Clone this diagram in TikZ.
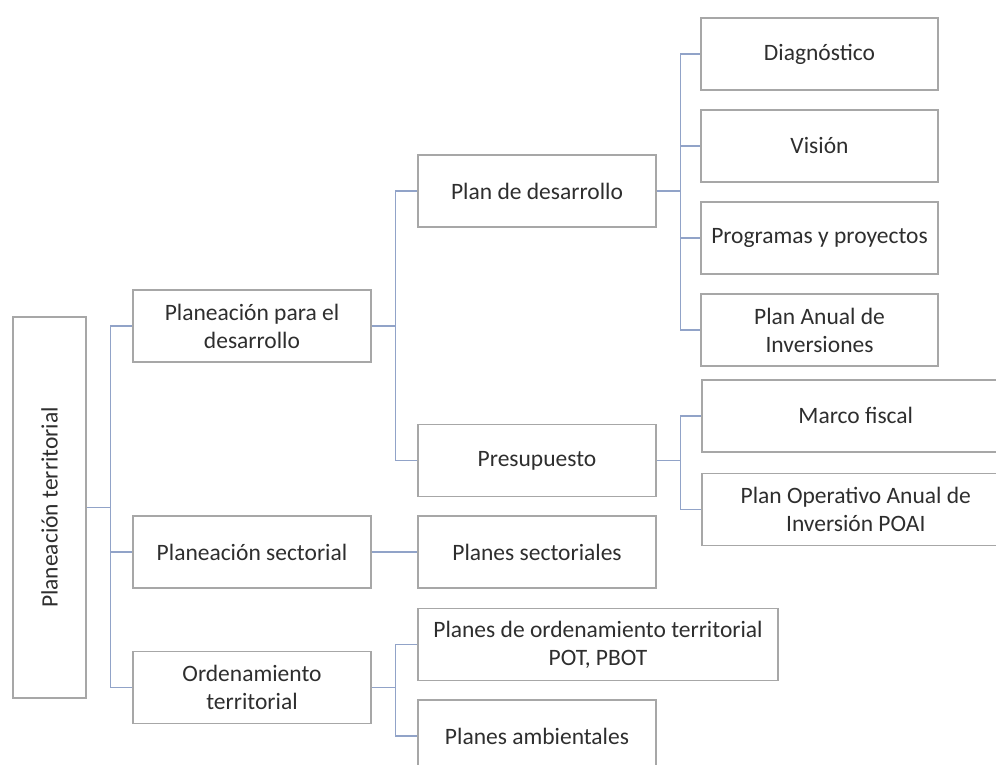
\documentclass[tikz,border=0pt]{standalone}
\usepackage{fontspec}
\setmainfont{Carlito}
\usetikzlibrary{positioning}

\definecolor{boxgray}{HTML}{A7A7A7}
\definecolor{linkblue}{HTML}{91A3C8}

\begin{document}
\begin{tikzpicture}[
        x=1pt, y=1pt,
        node distance=18.5pt and 45pt,
        box/.style={rectangle, draw=boxgray, line width=1.5pt, text=black!82, minimum width=238pt, minimum height=72pt, align=center, inner sep=2pt, font=\fontsize{23.5}{28}\selectfont},
        leafbox/.style={box, minimum width=237pt},
        widebox/.style={box, minimum width=308pt},
        link/.style={draw=linkblue, line width=1.5pt},
    ]
        \useasboundingbox (0,-765) rectangle (996,0);

        % Root (rotated, so its south anchor is on the right)
        \node[box, rotate=90, minimum width=381pt, minimum height=73pt] (root) at (49.5,-507.5) {Planeación territorial};

        % First level
        \node[box] (ppd) at (252,-326) {Planeación para el\\desarrollo};
        \node[box] (psec) at (252,-552) {Planeación sectorial};
        \node[box] (ord) at (252,-687.5) {Ordenamiento\\territorial};

        % Second level
        \node[box] (pdes) at (537,-191) {Plan de desarrollo};
        \node[box] (pres) at (537,-460.5) {Presupuesto};
        \node[box, below=18pt of pres] (plsec) {Planes sectoriales};
        \node[box, minimum width=360pt, below=19pt of plsec.south west, anchor=north west] (pot) {Planes de ordenamiento territorial\\POT, PBOT};
        \node[box, below=18pt of pot.south west, anchor=north west] (pamb) {Planes ambientales};

        % Third level
        \node[leafbox] (diag) at (819.5,-54) {Diagnóstico};
        \node[leafbox, below=of diag] (vis) {Visión};
        \node[leafbox, below=of vis] (prog) {Programas y proyectos};
        \node[leafbox, below=of prog] (pai) {Plan Anual de\\Inversiones};
        \node[widebox, anchor=north west] (mfis) at (701,-379) {Marco fiscal};
        \node[widebox, below=20pt of mfis.south west, anchor=north west] (poai) {Plan Operativo Anual de\\Inversión POAI};

        % Connectors from the root
        \draw[link] (root.south) -- ++(23.5,0) |- (ppd.west);
        \draw[link] (root.south) -- ++(23.5,0) |- (psec.west);
        \draw[link] (root.south) -- ++(23.5,0) |- (ord.west);

        % Connectors from the first level
        \draw[link] (ppd.east) -- ++(23.5,0) |- (pdes.west);
        \draw[link] (ppd.east) -- ++(23.5,0) |- (pres.west);
        \draw[link] (psec.east) -- (psec.east -| plsec.west);
        \draw[link] (ord.east) -- ++(23.5,0) |- (pot.west);
        \draw[link] (ord.east) -- ++(23.5,0) |- (pamb.west);

        % Connectors from the second level
        \draw[link] (pdes.east) -- ++(23.5,0) |- (diag.west);
        \draw[link] (pdes.east) -- ++(23.5,0) |- (vis.west);
        \draw[link] (pdes.east) -- ++(23.5,0) |- (prog.west);
        \draw[link] (pdes.east) -- ++(23.5,0) |- (pai.west);
        \draw[link] (pres.east) -- ++(23.5,0) |- (mfis.west);
        \draw[link] (pres.east) -- ++(23.5,0) |- (poai.west);
    \end{tikzpicture}
\end{document}
